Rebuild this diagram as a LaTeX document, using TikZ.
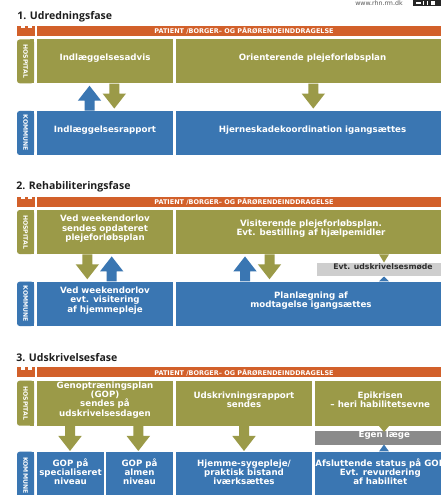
\documentclass[tikz,border=0pt]{standalone}
\usepackage{fontspec}
\setmainfont{DejaVu Sans}
\newfontfamily\titlefont{Open Sans}
\usetikzlibrary{fit}
\definecolor{rhorange}{HTML}{D2602A}
\definecolor{rholive}{HTML}{9B9A48}
\definecolor{rhblue}{HTML}{3A76B2}
\definecolor{rhgreyL}{HTML}{CECECE}
\definecolor{rhgreyD}{HTML}{8A8A8A}
\definecolor{rhtext}{HTML}{2E2E2E}
\definecolor{rhtitle}{HTML}{1E1E1E}
\definecolor{rhurl}{HTML}{555555}
\tikzset{
  every node/.style={inner sep=0pt},
  boxtext/.style={text=white, align=center, font=\bfseries\fontsize{6.5}{6.9}\selectfont},
  hbox/.style={boxtext, fill=rholive},
  kbox/.style={boxtext, fill=rhblue},
  gboxL/.style={fill=rhgreyL, text=rhtext, font=\bfseries\fontsize{5.8}{6}\selectfont},
  gboxD/.style={fill=rhgreyD, text=white, font=\bfseries\fontsize{6.5}{6.9}\selectfont},
  bartext/.style={text=white, font=\bfseries\fontsize{4.85}{5}\selectfont},
  vlabel/.style={text=white, rotate=-90, font=\bfseries\fontsize{4.6}{5}\selectfont},
  phase/.style={anchor=base west, text=rhtitle, font=\titlefont\bfseries\fontsize{7.9}{9}\selectfont},
  downarr/.pic={\fill[pic actions] (-5,0) -- (-5,10) -- (-11.7,10) -- (0,25) -- (11.7,10) -- (5,10) -- (5,0) -- cycle;},
  uparr/.pic={\fill[pic actions] (-5,0) -- (-5,-10) -- (-11.7,-10) -- (0,-25) -- (11.7,-10) -- (5,-10) -- (5,0) -- cycle;},
}
% #1 suffix, #2 top y of the orange bar
\newcommand\phasebar[2]{%
  \fill[rhorange] (37,#2) rectangle (451,{#2+10});
  \fill[rhorange] (17,{#2+2.5}) rectangle (35,{#2+10});
  \fill[rhorange] (17,#2) rectangle (20.5,{#2+2.5});
  \fill[rhorange] (24.5,#2) rectangle (28,{#2+2.5});
  \fill[rhorange] (31.5,#2) rectangle (35,{#2+2.5});
  \node[bartext] (bar#1) at (244,{#2+5}) {PATIENT /BORGER– OG PÅRØRENDEINDDRAGELSE};
}
% #1 name, #2 colour, #3 top, #4 bottom, #5 text
\newcommand\sidelabel[5]{%
  \fill[#2, rounded corners=2pt] (17,#3) rectangle (34,#4);
  \fill[#2] (30,#3) rectangle (34,#4);
  \node[vlabel] (#1) at (25.5,{(#3+#4)/2}) {#5};
}
\begin{document}
\begin{tikzpicture}[x=0.75pt,y=-0.75pt]
\useasboundingbox (0,0) rectangle (441,495);
\fill[white] (0,0) rectangle (441,495);

% header
\node[font=\fontsize{4.7}{5}\selectfont, text=rhurl] (url) at (379,3.5) {www.rhn.rm.dk};
\fill[black!85] (413,-1) rectangle (442,6.5);
\fill[white] (416,2.5) rectangle (421,4.5);
\fill[white] (423,1) rectangle (424.2,5.5);
\fill[white] (427,1) rectangle (428.2,5.5);
\fill[white] (431,1) rectangle (435,5.5);

% ---------- 1 ----------
\node[phase] (t1) at (17,19.5) {1. Udredningsfase};
\phasebar{1}{26}
\sidelabel{hl1}{rholive}{39.5}{83.3}{HOSPITAL}
\sidelabel{kl1}{rhblue}{111}{155}{KOMMUNE}
\node[hbox, fit={(37,39.5) (173,83.3)}] (h1a) {Indlæggelsesadvis};
\node[hbox, fit={(176,39.5) (449,83.3)}] (h1b) {Orienterende plejeforløbsplan};
\node[kbox, fit={(37,111) (173,155)}] (k1a) {Indlæggelsesrapport};
\node[kbox, fit={(176,111) (449,155)}] (k1b) {Hjerneskadekoordination igangsættes};
\pic[fill=rhblue] at (89.5,0 |- k1a.north) {uparr};
\pic[fill=rholive] at (114.3,0 |- h1a.south) {downarr};
\pic[fill=rholive] at (313.3,0 |- h1b.south) {downarr};

% ---------- 2 ----------
\node[phase] (t2) at (16,189.5) {2. Rehabiliteringsfase};
\phasebar{2}{196.7}
\sidelabel{hl2}{rholive}{210}{254}{HOSPITAL}
\sidelabel{kl2}{rhblue}{281.7}{326}{KOMMUNE}
\node[hbox, fit={(37,210) (173,254)}] (h2a) {Ved weekendorlov\\sendes opdateret\\plejeforløbsplan};
\node[hbox, fit={(176,210) (446,254)}] (h2b) {Visiterende plejeforløbsplan.\\Evt. bestilling af hjælpemidler};
\node[kbox, fit={(37,281.7) (173,326)}] (k2a) {Ved weekendorlov\\evt. visitering\\af hjemmepleje};
\node[kbox, fit={(176,281.7) (446,326)}] (k2b) {Planlægning af\\modtagelse igangsættes};
\pic[fill=rholive] at (87.3,0 |- h2a.south) {downarr};
\pic[fill=rhblue] at (111.7,0 |- k2a.north) {uparr};
\pic[fill=rhblue] at (245,0 |- k2b.north) {uparr};
\pic[fill=rholive] at (269.5,0 |- h2b.south) {downarr};
\node[gboxL, fit={(317,263) (449,276)}] (g2) {Evt. udskrivelsesmøde};
\fill[rholive] (379,0 |- h2b.south) -- (389,0 |- h2b.south) -- (384,262.5) -- cycle;
\fill[rhblue] (379,0 |- k2b.north) -- (389,0 |- k2b.north) -- (384,276.5) -- cycle;

% ---------- 3 ----------
\node[phase] (t3) at (16,361.5) {3. Udskrivelsesfase};
\phasebar{3}{367.3}
\sidelabel{hl3}{rholive}{380.7}{425.7}{HOSPITAL}
\sidelabel{kl3}{rhblue}{451.7}{499}{KOMMUNE}
\node[hbox, fit={(37,380.7) (173,425.7)}] (h3a) {Genoptræningsplan\\(GOP)\\sendes på\\udskrivelsesdagen};
\node[hbox, fit={(176,380.7) (312,425.7)}] (h3b) {Udskrivningsrapport\\sendes};
\node[hbox, fit={(314.5,380.7) (446,425.7)}] (h3c) {Epikrisen\\– heri habilitetsevne};
\node[kbox, fit={(37,451.7) (104,499)}] (k3a) {GOP på\\specialiseret\\niveau};
\node[kbox, fit={(106,451.7) (173,499)}] (k3b) {GOP på\\almen\\niveau};
\node[kbox, fit={(176,451.7) (312,499)}] (k3c) {Hjemme-sygepleje/\\praktisk bistand\\iværksættes};
\node[kbox, fit={(314.5,451.7) (446,499)}] (k3d) {Afsluttende status på GOP\\Evt. revurdering\\af habilitet};
\pic[fill=rholive] at (70,0 |- h3a.south) {downarr};
\pic[fill=rholive] at (138.3,0 |- h3a.south) {downarr};
\pic[fill=rholive] at (244,0 |- h3b.south) {downarr};
\node[gboxD, fit={(314.5,430.7) (454,445.3)}] (g3) {Egen læge};
\fill[rholive] (379,0 |- h3c.south) -- (389,0 |- h3c.south) -- (384,432) -- cycle;
\fill[rhblue] (379,0 |- k3d.north) -- (389,0 |- k3d.north) -- (384,444.5) -- cycle;
\end{tikzpicture}
\end{document}
